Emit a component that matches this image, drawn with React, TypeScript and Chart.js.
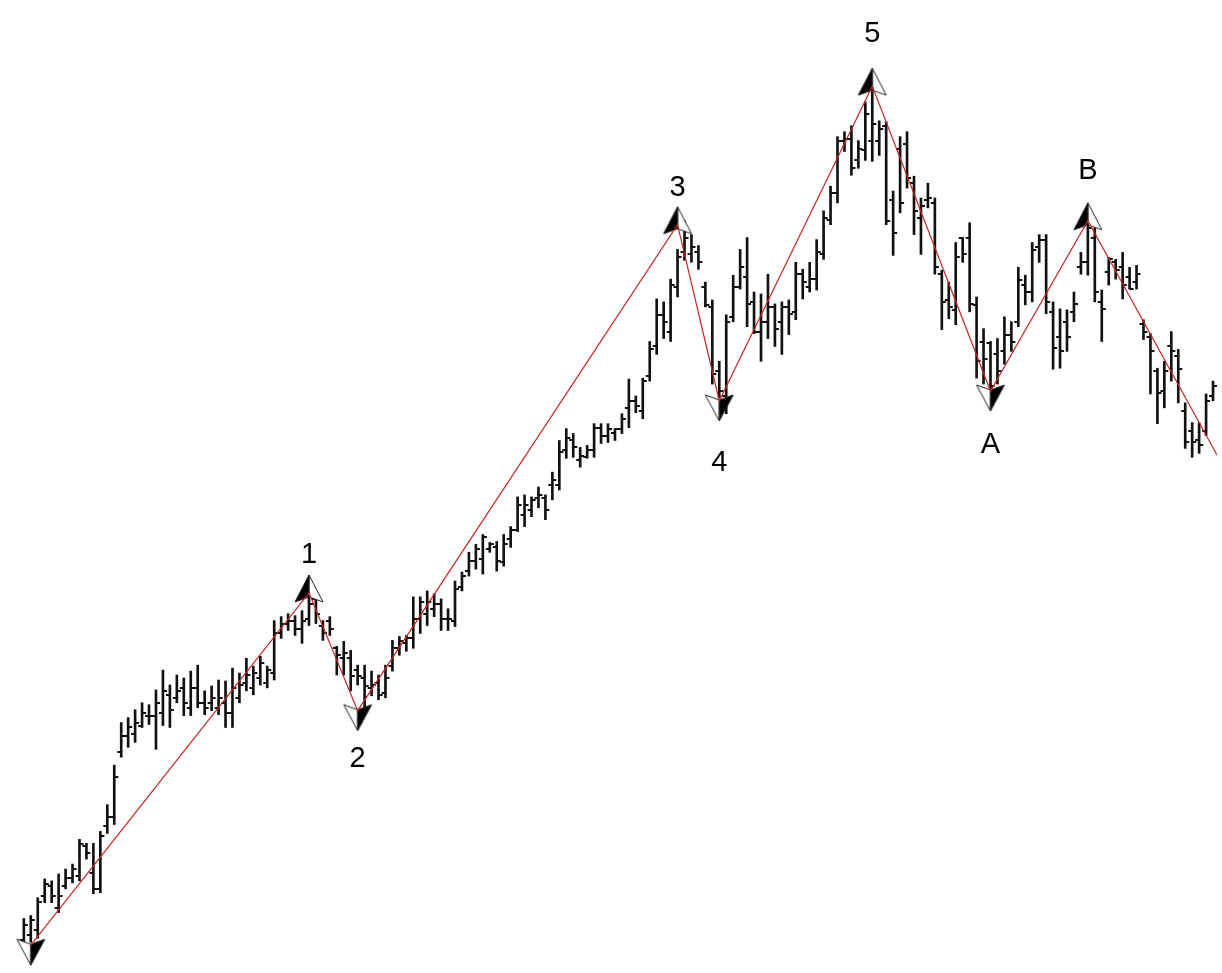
import React, { useEffect, useRef } from "react";
import { Chart, registerables } from "chart.js";

Chart.register(...registerables);

// OHLC bars (price units; one bar per session)
const highs = [77,80,98,117,115,122,127,132,157,153,153,165,192,232,275,280,288,295,293,308,328,313,323,320,327,333,307,312,318,317,330,325,340,332,342,332,378,382,385,383,388,407,405,378,382,352,357,348,333,333,327,323,333,358,362,363,402,402,408,405,400,390,418,427,447,455,465,457,458,465,473,503,505,503,513,505,528,560,572,567,553,555,577,577,577,572,587,622,605,623,660,703,700,723,753,782,768,757,720,702,640,687,727,753,765,710,708,728,698,700,702,740,733,740,763,792,817,867,872,878,863,902,917,883,882,812,867,872,827,805,820,805,732,720,760,765,780,705,673,660,663,685,680,735,727,760,768,768,700,693,692,710,750,785,775,712,745,743,750,735,737,682,668,633,640,670,652,598,578,578,607,620];
const lows = [50,53,57,93,93,83,107,113,115,137,102,103,163,172,240,250,255,270,273,248,272,270,295,282,282,290,283,287,283,270,270,295,307,303,313,310,318,360,368,363,355,373,375,358,363,323,323,307,313,287,302,298,300,327,343,347,350,365,373,382,368,368,372,408,423,430,425,447,428,433,452,468,473,483,492,480,500,510,542,543,533,542,543,557,558,560,567,573,588,582,620,647,663,660,705,742,740,733,695,617,603,587,680,713,675,668,640,663,655,647,667,682,703,710,712,743,778,800,852,828,835,843,842,848,778,747,790,815,768,748,795,728,672,683,677,740,690,623,617,605,617,637,650,675,697,700,740,688,632,633,650,680,728,727,700,660,717,723,703,713,713,662,607,577,593,620,598,552,543,547,565,600];
const opens = [55,60,65,100,110,88,110,118,120,150,123,107,170,180,245,261,263,272,282,282,285,303,300,310,290,310,295,295,290,295,285,300,315,310,320,315,325,365,375,378,370,380,400,373,378,350,340,340,328,320,310,315,305,332,350,355,360,380,385,390,395,380,378,412,428,438,440,450,452,437,460,470,485,490,502,502,515,515,550,560,540,543,550,573,565,568,572,593,600,590,625,655,687,670,715,750,748,750,715,695,630,605,685,715,725,700,670,680,695,680,695,690,728,715,723,748,783,810,863,865,843,853,863,863,878,803,855,860,820,785,803,800,728,702,692,765,765,697,660,658,647,650,667,680,717,710,755,763,690,665,680,690,735,740,765,700,730,740,735,725,720,678,665,630,610,655,645,590,570,560,570,605];
const closes = [70,75,94,112,100,100,118,127,152,143,107,160,180,220,261,270,275,285,282,295,307,288,307,295,310,295,290,300,300,285,310,313,323,325,335,328,365,375,378,370,378,395,385,365,370,343,345,322,322,312,313,303,320,350,357,360,380,397,397,395,380,380,410,423,438,450,462,455,438,455,470,495,495,500,505,490,520,548,562,553,544,550,573,565,572,572,582,600,595,620,652,687,680,717,745,765,755,740,697,627,610,680,715,735,698,670,680,695,673,695,688,728,720,723,750,785,810,863,865,835,855,890,880,875,782,770,800,825,792,797,805,735,700,695,745,748,698,640,642,615,630,667,660,722,710,752,763,700,653,650,665,698,740,775,710,693,743,732,717,713,728,670,650,608,630,650,632,558,558,555,600,615];

// Zigzag wave pivots: bar index and price
const zigIndex = [1, 41, 48, 94, 100, 122, 139, 153, 171.6];
const zigPrice = [50, 406, 287, 778, 600, 918, 610, 782, 545];

// Pivot arrows (up = swing high, down = swing low)
const upIndex = [41, 94, 122, 153];
const upPrice = [406, 778, 918, 782];
const downIndex = [1, 48, 100, 139];
const downPrice = [50, 287, 600, 610];

// Wave labels
const waveLabels = ["1", "2", "3", "4", "5", "A", "B"];
const labelIndex = [41, 48, 94, 100, 122, 139, 153];
const labelPrice = [444, 238, 815, 537, 971, 555, 832];

function makeTick(left: boolean): HTMLCanvasElement {
  const c = document.createElement("canvas");
  c.width = 10;
  c.height = 2;
  const g = c.getContext("2d")!;
  g.fillStyle = "#111";
  if (left) g.fillRect(1, 0, 4, 2);
  else g.fillRect(5, 0, 4, 2);
  return c;
}

function makeArrow(up: boolean): HTMLCanvasElement {
  const W = 32, H = 60, cx = 16, cy = 30;
  const c = document.createElement("canvas");
  c.width = W;
  c.height = H;
  const g = c.getContext("2d")!;
  g.lineWidth = 1;
  g.strokeStyle = "#222";
  if (up) {
    const tip = [cx, cy - 18], lw = [2, cy + 9], rw = [30, cy + 9], notch = [cx, cy + 4];
    g.beginPath();
    g.moveTo(tip[0], tip[1]); g.lineTo(rw[0], rw[1]); g.lineTo(notch[0], notch[1]); g.closePath();
    g.fillStyle = "#fff"; g.fill(); g.stroke();
    g.beginPath();
    g.moveTo(tip[0], tip[1]); g.lineTo(lw[0], lw[1]); g.lineTo(notch[0], notch[1]); g.closePath();
    g.fillStyle = "#000"; g.fill(); g.stroke();
  } else {
    const tip = [cx, cy + 20], lw = [2, cy - 6], rw = [30, cy - 6], notch = [cx, cy - 1];
    g.beginPath();
    g.moveTo(tip[0], tip[1]); g.lineTo(lw[0], lw[1]); g.lineTo(notch[0], notch[1]); g.closePath();
    g.fillStyle = "#fff"; g.fill(); g.stroke();
    g.beginPath();
    g.moveTo(tip[0], tip[1]); g.lineTo(rw[0], rw[1]); g.lineTo(notch[0], notch[1]); g.closePath();
    g.fillStyle = "#000"; g.fill(); g.stroke();
  }
  return c;
}

const labelPlugin = {
  id: "waveLabels",
  afterDatasetsDraw(chart: any) {
    const { ctx, scales } = chart;
    ctx.save();
    ctx.fillStyle = "#000";
    ctx.font = '29px "Liberation Sans", Arial, sans-serif';
    ctx.textAlign = "center";
    ctx.textBaseline = "middle";
    waveLabels.forEach((t, i) => {
      ctx.fillText(t, scales.x.getPixelForValue(labelIndex[i]), scales.y.getPixelForValue(labelPrice[i]));
    });
    ctx.restore();
  },
};

export default function App() {
  const ref = useRef<HTMLCanvasElement>(null);
  useEffect(() => {
    document.body.style.margin = "0";
    const leftTick = makeTick(true);
    const rightTick = makeTick(false);
    const upArrow = makeArrow(true);
    const downArrow = makeArrow(false);
    const chart = new Chart(ref.current!, {
      type: "bar",
      data: {
        datasets: [
          {
            type: "line",
            data: zigIndex.map((x, i) => ({ x, y: zigPrice[i] })),
            borderColor: "rgb(200,35,35)",
            borderWidth: 1.2,
            pointRadius: 0,
            tension: 0,
            order: 0,
          } as any,
          {
            type: "scatter",
            data: upIndex.map((x, i) => ({ x, y: upPrice[i] })),
            pointStyle: upArrow,
            pointRadius: 1,
            order: 1,
          } as any,
          {
            type: "scatter",
            data: downIndex.map((x, i) => ({ x, y: downPrice[i] })),
            pointStyle: downArrow,
            pointRadius: 1,
            order: 1,
          } as any,
          {
            type: "scatter",
            data: opens.map((v, i) => ({ x: i, y: v })),
            pointStyle: leftTick,
            pointRadius: 1,
            order: 2,
          } as any,
          {
            type: "scatter",
            data: closes.map((v, i) => ({ x: i, y: v })),
            pointStyle: rightTick,
            pointRadius: 1,
            order: 2,
          } as any,
          {
            type: "bar",
            data: highs.map((h, i) => ({ x: i, y: [lows[i], h] })),
            backgroundColor: "#111",
            borderWidth: 0,
            barThickness: 2,
            order: 3,
          } as any,
        ],
      },
      options: {
        animation: false,
        responsive: false,
        devicePixelRatio: 1,
        layout: { padding: 0 },
        events: [],
        scales: {
          x: { type: "linear", min: -2.71, max: 171.57, display: false, offset: false },
          y: { type: "linear", min: 27, max: 1000, display: false },
        },
        plugins: { legend: { display: false }, tooltip: { enabled: false } },
      },
      plugins: [labelPlugin],
    });
    return () => chart.destroy();
  }, []);
  return (
    <div style={{ position: "absolute", left: 0, top: 0, width: 1222, height: 973, background: "#fff" }}>
      <canvas ref={ref} width={1222} height={973} style={{ display: "block" }} />
    </div>
  );
}
